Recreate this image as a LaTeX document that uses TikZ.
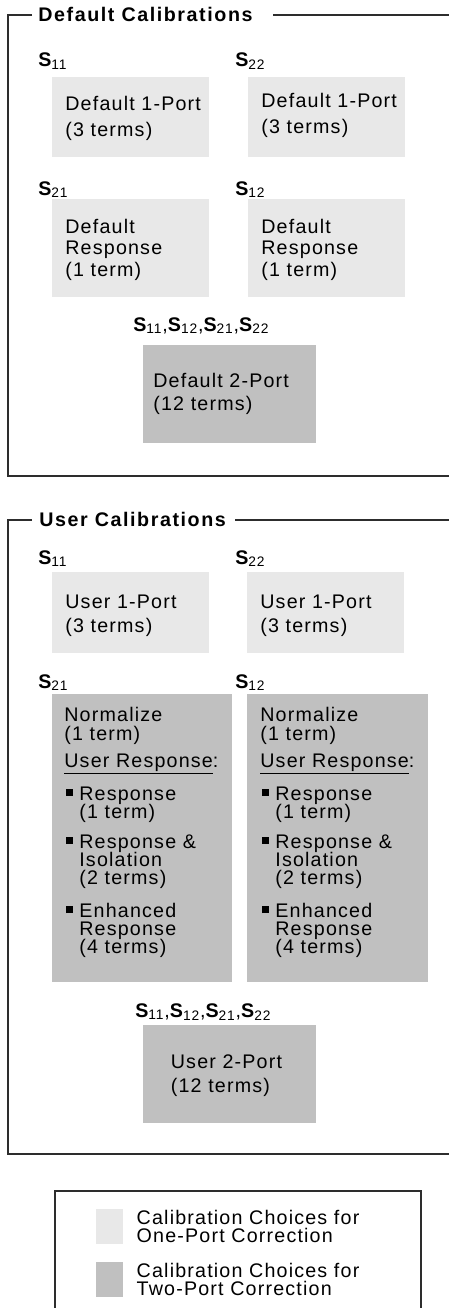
\documentclass[tikz,border=0pt]{standalone}
\usepackage{fontspec}
\setmainfont{Liberation Sans}[LetterSpace=6,BoldFeatures={LetterSpace=8}]
\usepackage{tikz}
\usetikzlibrary{positioning}
\definecolor{OneP}{RGB}{232,232,232}
\definecolor{TwoP}{RGB}{192,192,192}
\definecolor{Frm}{RGB}{45,45,45}
\newcommand{\spar}[1]{{\bfseries S}\textsubscript{#1}}
\newcommand{\bul}{\makebox[0.3cm][l]{\hspace{0.04cm}\rule[0.09cm]{0.14cm}{0.14cm}}}
\newcommand{\ind}{\hspace*{0.3cm}}
\newcommand{\tightlines}{\setlength{\lineskiplimit}{-5pt}}
\tikzset{
  frame/.style={line width=1pt,Frm},
  ttl/.style={font=\bfseries\fontsize{11.2}{13}\selectfont,inner sep=0pt,anchor=base west},
  slab/.style={font=\fontsize{11.2}{13}\selectfont,inner sep=0pt,anchor=base west},
  onebox/.style={fill=OneP,minimum width=3.14cm,minimum height=1.6cm,inner sep=0pt},
  twobox/.style={fill=TwoP,minimum width=3.46cm,minimum height=1.96cm,inner sep=0pt},
  listbox/.style={fill=TwoP,minimum height=5.76cm,inner sep=0pt},
  boxtxt/.style={inner sep=0pt,align=left,anchor=north west,
                 font=\fontsize{11.2}{#1}\selectfont\tightlines},
  swatch/.style={minimum width=0.54cm,minimum height=0.7cm,inner sep=0pt},
  legtxt/.style={inner sep=0pt,align=left,anchor=west,
                 font=\fontsize{11.2}{10.2}\selectfont\tightlines},
}

\begin{document}
\begin{tikzpicture}[x=0.02cm,y=-0.02cm]
  \useasboundingbox (0,0) rectangle (449,1308);
  % default calibrations
  \node[ttl] (dttl) at (38,22) {Default Calibrations};
  \draw[frame] (32,15) -- (8,15) -- (8,476) -- (449,476);
  \draw[frame] (273,15) -- (449,15);
  \node[slab] (ds11) at (38,67) {\spar{11}};
  \node[slab] (ds22) at (235,67) {\spar{22}};
  \node[onebox] (d11) at (130.5,117) {};
  \node[onebox] (d22) at (326.5,117) {};
  \node[boxtxt=14.7pt] (d11t) at (65,96.3) {Default 1-Port\\(3 terms)};
  \node[boxtxt=14.7pt] (d22t) at (261,93.3) {Default 1-Port\\(3 terms)};
  \node[slab] (ds21) at (38,195) {\spar{21}};
  \node[slab] (ds12) at (235,195) {\spar{12}};
  \node[onebox,minimum height=1.96cm] (d21) at (130.5,248) {};
  \node[onebox,minimum height=1.96cm] (d12) at (326.5,248) {};
  \node[boxtxt=12.2pt] (d21t) at (65,218.8) {Default\\Response\\(1 term)};
  \node[boxtxt=12.2pt] (d12t) at (261,218.8) {Default\\Response\\(1 term)};
  \node[slab] (dsall) at (133,331) {\spar{11},\spar{12},\spar{21},\spar{22}};
  \node[twobox] (d2p) at (229.5,394) {};
  \node[boxtxt=13.3pt] (d2pt) at (153,372.8) {Default 2-Port\\(12 terms)};

  % user calibrations
  \node[ttl] (uttl) at (39,526) {User Calibrations};
  \draw[frame] (32,520) -- (8,520) -- (8,1154) -- (449,1154);
  \draw[frame] (235,520) -- (449,520);
  \node[slab] (us11) at (38,564) {\spar{11}};
  \node[slab] (us22) at (235,564) {\spar{22}};
  \node[onebox,minimum height=1.62cm] (u11) at (130.5,612.5) {};
  \node[onebox,minimum height=1.62cm] (u22) at (325.5,612.5) {};
  \node[boxtxt=13.6pt] (u11t) at (65,594.8) {User 1-Port\\(3 terms)};
  \node[boxtxt=13.6pt] (u22t) at (260,594.8) {User 1-Port\\(3 terms)};
  \node[slab] (us21) at (38,688) {\spar{21}};
  \node[slab] (us12) at (235,688) {\spar{12}};
  \node[listbox,minimum width=3.6cm] (u21) at (142,838) {};
  \node[listbox,minimum width=3.62cm] (u12) at (337.5,838) {};
  \node[boxtxt=10.3pt] (u21t) at (64,707.3) {Normalize\\(1 term)\\[0.18cm]
    \underline{User Response}:\\[0.3cm]
    \bul Response\\\ind(1 term)\\[0.24cm]
    \bul Response \&\\\ind Isolation\\\ind(2 terms)\\[0.3cm]
    \bul Enhanced\\\ind Response\\\ind(4 terms)};
  \node[boxtxt=10.3pt] (u12t) at (260,707.3) {Normalize\\(1 term)\\[0.18cm]
    \underline{User Response}:\\[0.3cm]
    \bul Response\\\ind(1 term)\\[0.24cm]
    \bul Response \&\\\ind Isolation\\\ind(2 terms)\\[0.3cm]
    \bul Enhanced\\\ind Response\\\ind(4 terms)};
  \node[slab] (usall) at (135,1017) {\spar{11},\spar{12},\spar{21},\spar{22}};
  \node[twobox] (u2p) at (229.5,1074) {};
  \node[boxtxt=13.3pt] (u2pt) at (170.5,1054.8) {User 2-Port\\(12 terms)};

  % legend
  \draw[frame] (55,1320) -- (55,1191) -- (421,1191) -- (421,1320);
  \node[swatch,fill=OneP] (sw1) at (109.5,1226.5) {};
  \node[legtxt,right=0.26cm of sw1] (lt1) {Calibration Choices for\\One-Port Correction};
  \node[swatch,fill=TwoP] (sw2) at (109.5,1279.5) {};
  \node[legtxt,right=0.26cm of sw2] (lt2) {Calibration Choices for\\Two-Port Correction};
\end{tikzpicture}
\end{document}
